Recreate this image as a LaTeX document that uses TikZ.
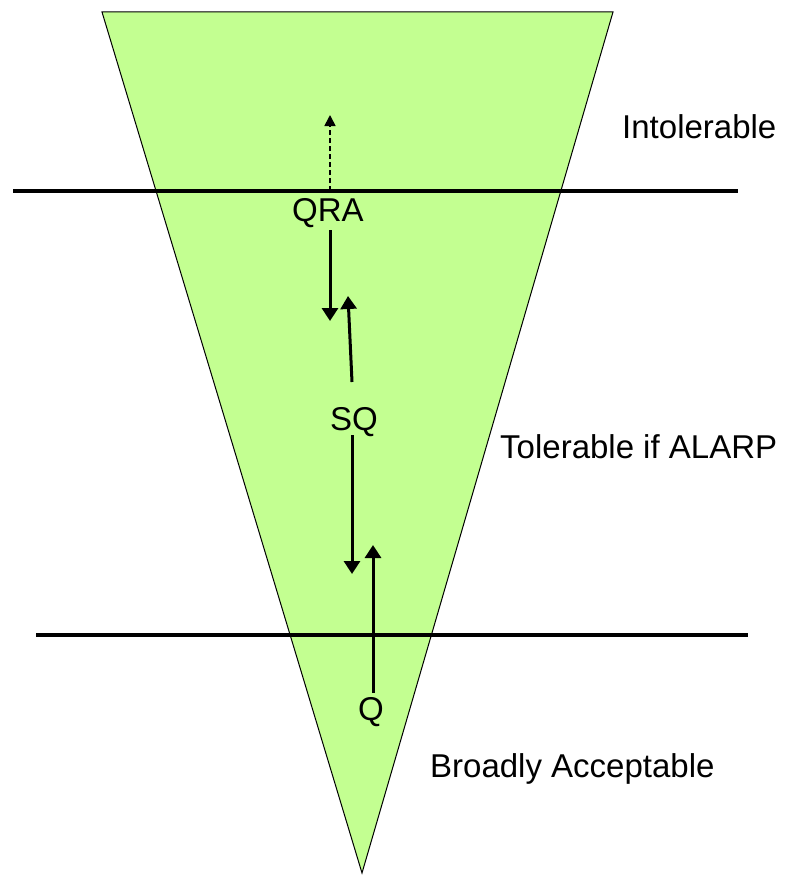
\documentclass[tikz,border=0pt]{standalone}
\usepackage{fontspec}
\setmainfont{Liberation Sans}
\usetikzlibrary{arrows.meta}
\definecolor{riskgreen}{RGB}{195,255,145}

\begin{document}
\begin{tikzpicture}[x=1pt,y=-1pt,
    lbl/.style={font=\fontsize{33}{40}\selectfont, inner sep=0pt},
    band/.style={line width=4pt},
    move/.style={line width=3pt, -{Triangle[width=16pt,length=13pt]}},
    hint/.style={line width=1.6pt, dash pattern=on 5pt off 3pt, -{Triangle[width=11pt,length=11pt]}}]
        \useasboundingbox (0,0) rectangle (790,875);
        % the risk triangle
        \filldraw[fill=riskgreen, draw=black, line width=1pt] (102,12) -- (613,12) -- (362,873) -- cycle;
        % region boundaries
        \coordinate (topL) at (13,191);
        \coordinate (topR) at (738,191);
        \coordinate (botL) at (36,635);
        \coordinate (botR) at (748,635);
        \draw[band] (topL) -- (topR);
        \draw[band] (botL) -- (botR);
        % region names
        \node[lbl, anchor=base west] (intol) at (622,138) {Intolerable};
        \node[lbl, anchor=base west] (alarp) at (500,458) {Tolerable if ALARP};
        \node[lbl, anchor=base west] (broad) at (430,777) {Broadly Acceptable};
        % methods
        \node[lbl, anchor=base west] (qra) at (292,221) {QRA};
        \node[lbl, anchor=base west] (sq) at (330,430) {SQ};
        \node[lbl, anchor=base west] (q) at (358,720) {Q};
        % moves between methods
        \coordinate (qraTop) at (330,191);
        \coordinate (qraTip) at (330,115);
        \coordinate (downA) at (330,230);
        \coordinate (downAtip) at (330,321);
        \coordinate (upA) at (352,382);
        \coordinate (upAtip) at (348,296);
        \coordinate (downB) at (352,435);
        \coordinate (downBtip) at (352,574);
        \coordinate (upB) at (373,693);
        \coordinate (upBtip) at (373,545);
        \draw[hint] (qraTop) -- (qraTip);
        \draw[move] (downA) -- (downAtip);
        \draw[move] (upA) -- (upAtip);
        \draw[move] (downB) -- (downBtip);
        \draw[move] (upB) -- (upBtip);
      \end{tikzpicture}
\end{document}
